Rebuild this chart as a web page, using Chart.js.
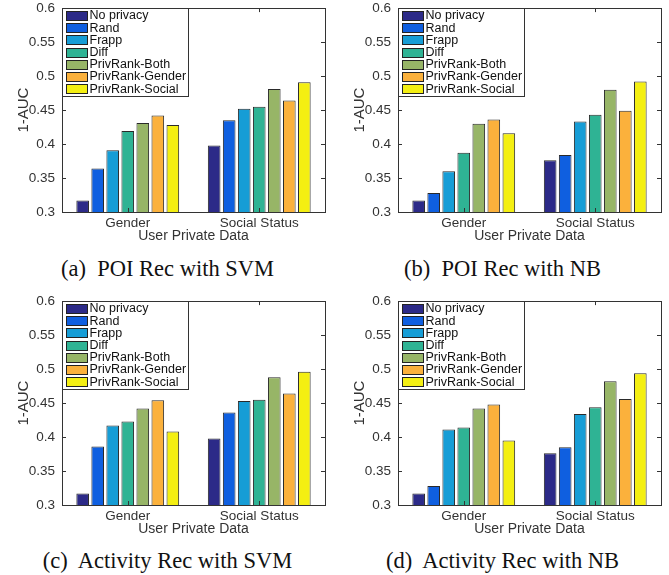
<!DOCTYPE html>
<html>
<head>
<meta charset="utf-8">
<script src="https://cdn.jsdelivr.net/npm/chart.js@4.4.1/dist/chart.umd.min.js"></script>
<style>
  body { margin: 0; background: #fff; }
  #wrap { position: relative; width: 669px; height: 575px; overflow: hidden; }
  .panel { position: absolute; width: 335px; height: 252px; }
  .cap { position: absolute; width: 335px; text-align: center; font-family: "Liberation Serif", "DejaVu Serif", serif; font-size: 22.5px; color: #111; line-height: 26px; }
</style>
</head>
<body>
<div id="wrap">
  <div class="panel" style="left:0;top:-7px"><canvas id="c1" width="335" height="252"></canvas></div>
  <div class="panel" style="left:336px;top:-7px"><canvas id="c2" width="335" height="252"></canvas></div>
  <div class="panel" style="left:0;top:286px"><canvas id="c3" width="335" height="252"></canvas></div>
  <div class="panel" style="left:336px;top:286px"><canvas id="c4" width="335" height="252"></canvas></div>
  <div class="cap" style="left:0;top:256px">(a)&nbsp; POI Rec with SVM</div>
  <div class="cap" style="left:335px;top:256px">(b)&nbsp; POI Rec with NB</div>
  <div class="cap" style="left:0;top:548px">(c)&nbsp; Activity Rec with SVM</div>
  <div class="cap" style="left:335px;top:548px">(d)&nbsp; Activity Rec with NB</div>
</div>
<script>
// categories and methods
const categories = ["Gender", "Social Status"];
const methods = ["No privacy", "Rand", "Frapp", "Diff", "PrivRank-Both", "PrivRank-Gender", "PrivRank-Social"];
const methodColors = ["#2c2a88", "#0f5fe0", "#169dd6", "#2fb394", "#97b567", "#fbb13c", "#f4ef12"];
const yTickValues = [0.3, 0.35, 0.4, 0.45, 0.5, 0.55, 0.6];
const yTickLabels = ["0.3", "0.35", "0.4", "0.45", "0.5", "0.55", "0.6"];

// values per method: [Gender, Social Status]
const poiSvmGender = [0.317, 0.364, 0.391, 0.419, 0.431, 0.442, 0.428];
const poiSvmSocial = [0.398, 0.435, 0.452, 0.455, 0.481, 0.464, 0.491];
const poiNbGender  = [0.317, 0.328, 0.360, 0.387, 0.430, 0.436, 0.416];
const poiNbSocial  = [0.376, 0.384, 0.433, 0.443, 0.480, 0.449, 0.492];
const actSvmGender = [0.317, 0.386, 0.417, 0.423, 0.442, 0.454, 0.408];
const actSvmSocial = [0.398, 0.436, 0.453, 0.455, 0.488, 0.464, 0.496];
const actNbGender  = [0.317, 0.328, 0.411, 0.414, 0.442, 0.448, 0.395];
const actNbSocial  = [0.376, 0.385, 0.434, 0.444, 0.482, 0.456, 0.494];

const sans = '"Liberation Sans", Arial, sans-serif';
const ink = "#333";

// matlab style box with inward ticks
const framePlugin = {
  id: "frame",
  afterDatasetsDraw(chart) {
    const { ctx, chartArea: a, scales } = chart;
    ctx.save();
    ctx.strokeStyle = ink;
    ctx.lineWidth = 1;
    ctx.beginPath();
    yTickValues.forEach(v => {
      const y = Math.round(scales.y.getPixelForValue(v)) + 0.5;
      ctx.moveTo(a.left, y); ctx.lineTo(a.left + 4, y);
      ctx.moveTo(a.right, y); ctx.lineTo(a.right - 4, y);
    });
    categories.forEach((c, i) => {
      const x = Math.round(scales.x.getPixelForValue(i)) + 0.5;
      ctx.moveTo(x, a.top); ctx.lineTo(x, a.top + 4);
      ctx.moveTo(x, a.bottom); ctx.lineTo(x, a.bottom - 4);
    });
    ctx.stroke();
    ctx.strokeRect(Math.round(a.left) + 0.5, Math.round(a.top) + 0.5, Math.round(a.right - a.left), Math.round(a.bottom - a.top));
    ctx.restore();
  }
};

// legend box in the top left corner of the plot
const boxLegend = {
  id: "boxLegend",
  afterDraw(chart) {
    const { ctx, chartArea: a } = chart;
    const x0 = Math.round(a.left) + 0.5, y0 = Math.round(a.top) + 0.5;
    const w = 126, h = 88, rowH = 12.2;
    ctx.save();
    ctx.fillStyle = "#fff";
    ctx.fillRect(x0, y0, w, h);
    ctx.strokeStyle = ink;
    ctx.lineWidth = 1;
    ctx.strokeRect(x0, y0, w, h);
    ctx.font = "12.5px " + sans;
    ctx.textBaseline = "middle";
    chart.data.datasets.forEach((ds, i) => {
      const cy = y0 + 7 + i * rowH;
      ctx.fillStyle = ds.backgroundColor;
      ctx.fillRect(x0 + 4, Math.round(cy - 4.5), 21, 9);
      ctx.strokeStyle = "#222";
      ctx.strokeRect(x0 + 4, Math.round(cy - 4.5) + 0.5, 21, 9);
      ctx.fillStyle = "#111";
      ctx.fillText(ds.label, x0 + 27, cy + 0.5);
    });
    ctx.restore();
  }
};

function makeChart(id, gender, social) {
  const datasets = methods.map((m, i) => ({
    label: m,
    data: [gender[i], social[i]],
    backgroundColor: methodColors[i],
    borderColor: "#2a2a2a",
    borderWidth: 1,
    categoryPercentage: 0.8,
    barPercentage: 0.84
  }));
  return new Chart(document.getElementById(id), {
    type: "bar",
    data: { labels: categories, datasets },
    options: {
      responsive: false,
      animation: false,
      devicePixelRatio: 1,
      layout: { padding: { top: 0, right: 10, left: 0, bottom: 0 } },
      scales: {
        x: {
          grid: { display: false, drawTicks: false },
          border: { display: false },
          ticks: { color: ink, font: { family: sans, size: 13.5 }, padding: 3 },
          title: { display: true, text: "User Private Data", color: ink, font: { family: sans, size: 14 }, padding: 0 },
          afterFit: s => { s.height = 33; }
        },
        y: {
          min: 0.3,
          max: 0.6,
          grid: { display: false, drawTicks: false },
          border: { display: false },
          afterBuildTicks: s => { s.ticks = yTickValues.map(v => ({ value: v })); },
          ticks: {
            color: ink,
            font: { family: sans, size: 13.5 },
            padding: 7,
            callback: (v, i) => yTickLabels[i]
          },
          title: { display: true, text: "1-AUC", color: ink, font: { family: sans, size: 15 }, padding: { top: 15 } },
          afterFit: s => { s.width = 62; }
        }
      },
      plugins: {
        legend: { display: false },
        tooltip: { enabled: false }
      }
    },
    plugins: [framePlugin, boxLegend]
  });
}

makeChart("c1", poiSvmGender, poiSvmSocial);
makeChart("c2", poiNbGender, poiNbSocial);
makeChart("c3", actSvmGender, actSvmSocial);
makeChart("c4", actNbGender, actNbSocial);
</script>
</body>
</html>
